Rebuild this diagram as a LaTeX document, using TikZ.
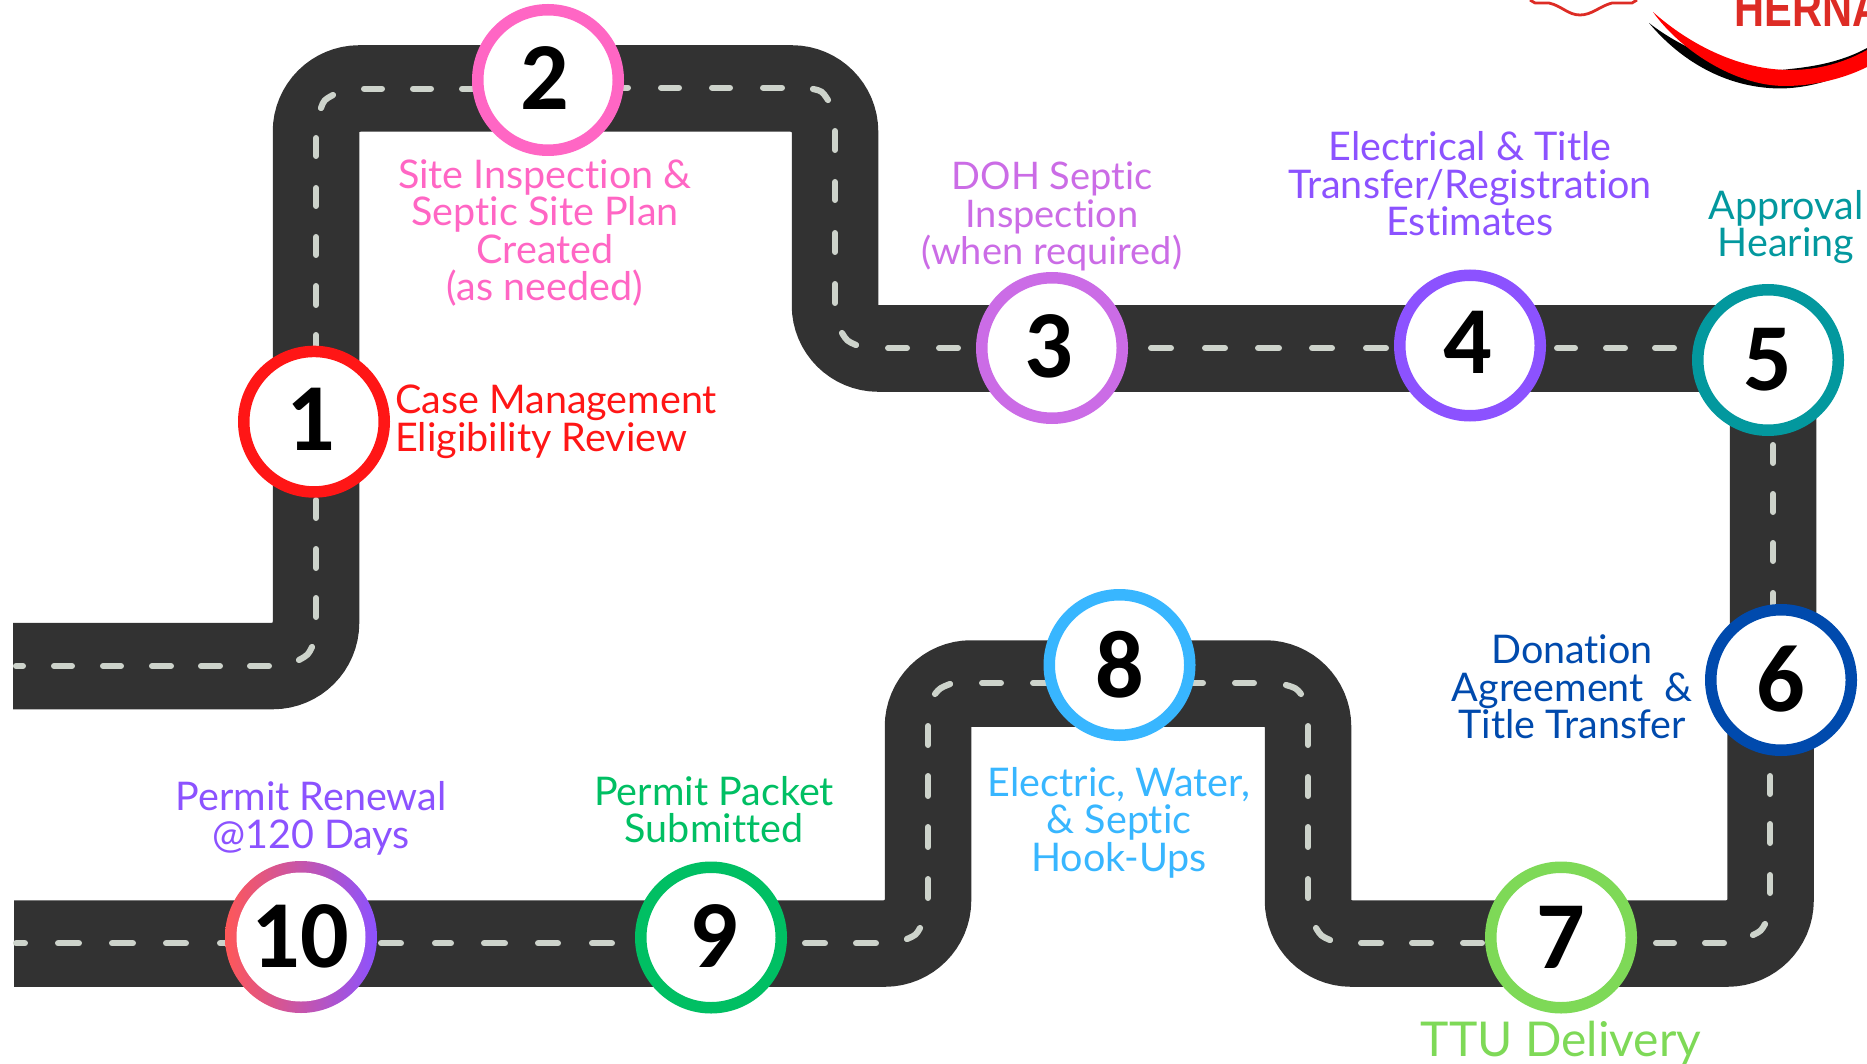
\documentclass[tikz,border=0pt]{standalone}
\usepackage{graphicx}
\usepackage{fontspec}
\setmainfont{Lato}[Ligatures=NoCommon]
\newfontfamily\numfont{Carlito}
\newfontfamily\logofont{Liberation Sans}
\definecolor{roadc}{HTML}{323232}
\definecolor{markc}{HTML}{CDD3CB}
\definecolor{c1}{HTML}{FF1616}
\definecolor{c2}{HTML}{FF66C4}
\definecolor{c3}{HTML}{CB6CE6}
\definecolor{c4}{HTML}{8C52FF}
\definecolor{c5}{HTML}{03989E}
\definecolor{c6}{HTML}{004AAD}
\definecolor{c7}{HTML}{7ED957}
\definecolor{c8}{HTML}{38B6FF}
\definecolor{c9}{HTML}{00BF63}
\definecolor{c10a}{HTML}{FF5757}
\definecolor{logored}{HTML}{DD2C25}
\tikzset{
  roadway/.style={draw=roadc,line width=86.5pt,rounded corners=43.25pt,line cap=butt},
  lanemark/.style={draw=markc,line width=6.2pt,line cap=round},
  stopring/.style={circle,draw=#1,line width=11.5pt,fill=white,minimum size=140.5pt,inner sep=0pt},
  stopnum/.style={font=\fontsize{96}{96}\selectfont\numfont\bfseries,text=black,inner sep=0pt},
  steplabel/.style={font=\fontsize{39.5}{37.5}\selectfont,text=#1,align=center,inner sep=0pt,anchor=base},
}
\newcommand{\hmarks}[2]{\foreach \a/\b in {#2}{\draw[lanemark] (\a+3.1,#1) -- (\b-3.1,#1);}}
\newcommand{\vmarks}[2]{\foreach \a/\b in {#2}{\draw[lanemark] (#1,\a+3.1) -- (#1,\b-3.1);}}
\begin{document}
\begin{tikzpicture}[x=1pt,y=-1pt]
\useasboundingbox (0,0) rectangle (1867,1064);
% logo fragments
\draw[logored,line width=2.8pt,line join=round] (1530,0) -- (1535,3) -- (1549,3) .. controls (1562,6) and (1568,15) .. (1580,15) .. controls (1592,15) and (1600,6) .. (1612,3) -- (1632,3) -- (1637,0);
\fill[black] (1649,23) .. controls (1680,60) and (1725,88) .. (1780,88.5) .. controls (1815,88) and (1845,76) .. (1867,62) -- (1867,48) .. controls (1845,60) and (1820,66) .. (1790,69) .. controls (1750,75) and (1690,55) .. cycle;
\fill[red] (1653,12) .. controls (1690,45) and (1740,70) .. (1790,70) .. controls (1820,70) and (1845,62) .. (1867,50) -- (1867,67) .. controls (1845,78) and (1815,86) .. (1785,86) .. controls (1735,86) and (1680,50) .. cycle;
\node[anchor=base west,inner sep=0pt,text=logored,font=\logofont\bfseries\fontsize{52}{52}\selectfont] (logotext) at (1734,26.5) {\scalebox{0.8}[1]{HERNA}};
% road
\coordinate (a0) at (13,666);
\coordinate (a1) at (316,666);
\coordinate (a2) at (316,88.5);
\coordinate (a3) at (835,88.5);
\coordinate (a4) at (835,348.5);
\coordinate (a5) at (1773,348.5);
\coordinate (a6) at (1773,680);
\draw[roadway] (a0) -- (a1) -- (a2) -- (a3) -- (a4) -- (a5) -- (a6);
\coordinate (b0) at (14,943.5);
\coordinate (b1) at (928,943.5);
\coordinate (b2) at (928,683.5);
\coordinate (b3) at (1308,683.5);
\coordinate (b4) at (1308,943.5);
\coordinate (b5) at (1770.5,943.5);
\coordinate (b6) at (1770.5,680);
\draw[roadway] (b0) -- (b1) -- (b2) -- (b3) -- (b4) -- (b5) -- (b6);
% lane marks
\hmarks{666}{13/26,51/75,100/124,149/174,198/223,247/272}
\draw[lanemark] (312,647) .. controls (308,655) .. (299,660);
\vmarks{316}{497/521,546/571,595/620,135/159,185/209,234/258,283/308,332/356}
\draw[lanemark] (321,108) .. controls (324,100) .. (333,95);
\hmarks{88.7}{361/385,410/434,459/480}
\hmarks{87.7}{610/631,658/682,709/733,760/785}
\draw[lanemark] (813,89) .. controls (822,91) .. (828,100);
\vmarks{835}{128/153,179/203,230/255,281/306}
\draw[lanemark] (842,333) .. controls (847,341) .. (856,345);
\hmarks{348}{885/910,936/961,1148/1174,1202/1228,1255/1282,1309/1335,1363/1389,1554/1578,1603/1628,1652/1677}
\vmarks{1773}{442/466,491/515,540/564,590/614}
\vmarks{1770}{773/797,821/846,872/896}
\draw[lanemark] (1765,924) .. controls (1761,931) .. (1753,935);
\hmarks{943}{1653/1677,1702/1727,1358/1384,1409/1434,1460/1485}
\draw[lanemark] (1316,928) .. controls (1321,936) .. (1330,940);
\vmarks{1308}{723/748,774/799,824/850,876/901}
\draw[lanemark] (1286,685) .. controls (1296,688) .. (1301,694);
\hmarks{683}{979/1004,1030/1055,1186/1206,1232/1257}
\draw[lanemark] (935,694) .. controls (940,688) .. (950,684);
\vmarks{928}{723/748,773/799,824/850,876/901}
\draw[lanemark] (920,928) .. controls (916,935) .. (907,939);
\hmarks{943.3}{13/28,55/82,109/136,163/189,217/243,378/404,432/454,481/508,535/561,589/615,802/828,853/879}
% stops
\node[stopring=c1] (s1) at (314,421.7) {};
\node[stopring=c2] (s2) at (548,80) {};
\node[stopring=c3] (s3) at (1052,348) {};
\node[stopring=c4] (s4) at (1470,345.5) {};
\node[stopring=c5] (s5) at (1768,360) {};
\node[stopring=c6] (s6) at (1781,680) {};
\node[stopring=c7] (s7) at (1561,937.5) {};
\node[stopring=c8] (s8) at (1119.5,665) {};
\node[stopring=c9] (s9) at (711,937.5) {};
\node[circle,minimum size=152pt,inner sep=0pt,left color=c10a,right color=c4] (s10out) at (301,937) {};
\node[circle,fill=white,minimum size=129pt,inner sep=0pt] (s10) at (s10out.center) {};
% numbers
\node[stopnum] (n1) at (311,419) {1};
\node[stopnum] (n2) at (545,78) {2};
\node[stopnum] (n3) at (1049,346) {3};
\node[stopnum] (n4) at (1468,342) {4};
\node[stopnum] (n5) at (1768,360) {5};
\node[stopnum] (n6) at (1781,679) {6};
\node[stopnum] (n7) at (1561,937) {7};
\node[stopnum] (n8) at (1119.5,665) {8};
\node[stopnum] (n9) at (714,936) {9};
\node[stopnum] (n10) at (300,936) {10};
% labels
\node[font=\fontsize{39.5}{37.5}\selectfont,text=c1,align=left,inner sep=0pt,anchor=base west] (l1) at (395,451) {Case Management\\Eligibility Review};
\node[steplabel=c2] (l2) at (545,301) {Site Inspection \&\\Septic Site Plan\\Created\\(as needed)};
\node[steplabel=c3,font=\fontsize{38}{37.5}\selectfont] (l3) at (1052,265) {DOH Septic\\Inspection\\(when required)};
\node[steplabel=c4] (l4) at (1470,236) {Electrical \& Title\\Transfer/Registration\\Estimates};
\node[steplabel=c5] (l5) at (1786,257) {Approval\\Hearing};
\node[steplabel=c6] (l6) at (1572,738.5) {Donation\\Agreement\ \ \&\\Title Transfer};
\node[font=\fontsize{48}{48}\selectfont,text=c7,inner sep=0pt,anchor=base] (l7) at (1561,1056) {TTU Delivery};
\node[steplabel=c8] (l8) at (1119,871) {Electric, Water,\\\& Septic\\Hook-Ups};
\node[steplabel=c9] (l9) at (714,842.5) {Permit Packet\\Submitted};
\node[steplabel=c4] (l10) at (311,848) {Permit Renewal\\@120 Days};
\end{tikzpicture}
\end{document}
